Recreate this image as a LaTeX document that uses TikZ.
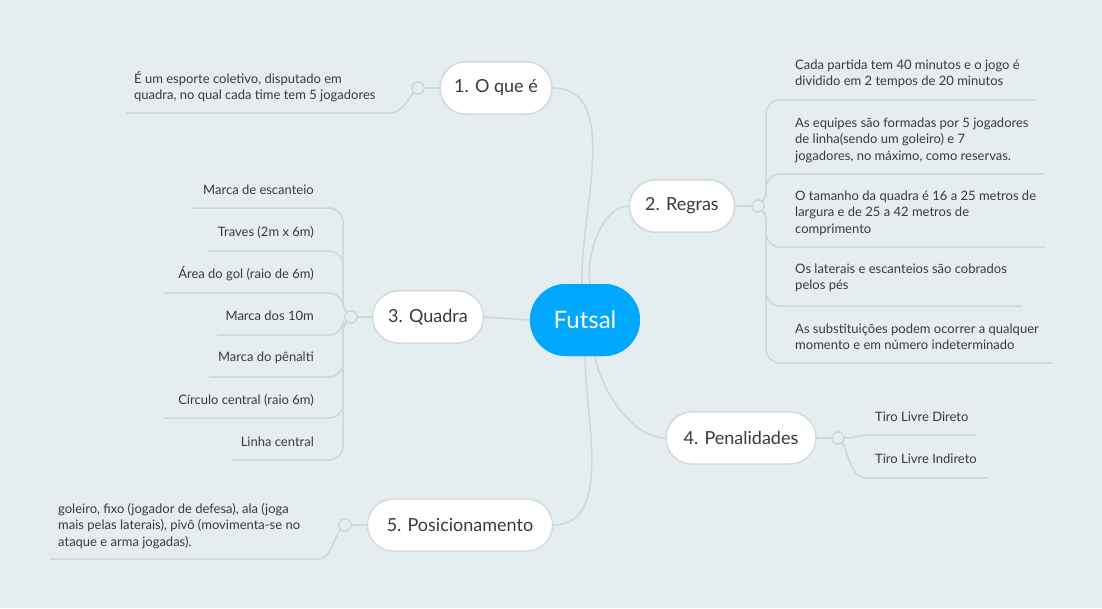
\documentclass[tikz,border=0pt]{standalone}
\usepackage{fontspec}
\setmainfont{Lato}
\usetikzlibrary{shapes.misc}
\definecolor{bg}{HTML}{E5EDF0}
\definecolor{linec}{HTML}{CFD6D9}
\definecolor{brd}{HTML}{D3DADD}
\definecolor{txt}{HTML}{3A3A3A}
\definecolor{blu}{HTML}{00A9FF}
\begin{document}
\begin{tikzpicture}[x=1pt,y=-1pt,
  central/.style={rounded rectangle, fill=blu, text=white, minimum width=110pt, minimum height=72pt, font=\fontsize{24}{28}\selectfont, inner sep=0pt},
  topic/.style={rounded rectangle, draw=brd, line width=1.3pt, fill=white, text=txt, minimum height=52pt, font=\fontsize{18}{22}\selectfont, inner sep=0pt},
  leaf/.style={text=txt, font=\fontsize{13}{16.5}\selectfont, inner sep=0pt},
  dot/.style={circle, draw=linec, line width=1.3pt, fill=bg, minimum size=12pt, inner sep=0pt},
  conn/.style={draw=linec, line width=1.5pt},
  lconn/.style={draw=linec, line width=1.5pt, rounded corners=14pt}]
\fill[bg] (0,0) rectangle (1102,608);
\useasboundingbox (0,0) rectangle (1102,608);

% central and topics (placed first for anchors)
\node[central] (F) at (585,320) {};
\node[topic, minimum width=112pt] (T1) at (496,88) {};
\node[topic, minimum width=105pt] (T2) at (682,206) {};
\node[topic, minimum width=111pt] (T3) at (428,317) {};
\node[topic, minimum width=150pt] (T4) at (741,438) {};
\node[topic, minimum width=185pt] (T5) at (460,525) {};

% connectors central -> topics
\path (F.north) ++(-3,0) coordinate (f1) (F.north) ++(5,0) coordinate (f2)
  (F.south) ++(10,0) coordinate (f4) (F.south) ++(0,0) coordinate (f5);
\draw[conn] (f1) to[out=92,in=0,looseness=0.9] (T1.east);
\draw[conn] (f2) to[out=100,in=180,looseness=0.8] (T2.west);
\draw[conn] (F.west) -- (T3.east);
\draw[conn] (f4) to[out=-80,in=180,looseness=0.8] (T4.west);
\draw[conn] (f5) to[out=-90,in=0,looseness=0.9] (T5.east);
\node[central] at (F) {Futsal};
\node[topic, minimum width=112pt] at (T1) {1. O que é};
\node[topic, minimum width=105pt] at (T2) {2. Regras};
\node[topic, minimum width=111pt] at (T3) {3. Quadra};
\node[topic, minimum width=150pt] at (T4) {4. Penalidades};
\node[topic, minimum width=185pt] at (T5) {5. Posicionamento};

% dots
\node[dot] (D1) at (418,88) {};
\node[dot] (D2) at (758,206) {};
\node[dot] (D3) at (351,317) {};
\node[dot] (D4) at (838,438) {};
\node[dot] (D5) at (345,525) {};

\draw[conn] (T1.west) -- (D1.east);
\draw[conn] (T2.east) -- (D2.west);
\draw[conn] (T3.west) -- (D3.east);
\draw[conn] (T4.east) -- (D4.west);
\draw[conn] (T5.west) -- (D5.east);

% leaf underline end coordinates
\coordinate (e1) at (126,113);
\coordinate (r1) at (1035,100);
\coordinate (r2) at (1043,174);
\coordinate (r3) at (1045,247);
\coordinate (r4) at (1022,306);
\coordinate (r5) at (1052,363);
\coordinate (q1) at (192,208);
\coordinate (q2) at (207,251);
\coordinate (q3) at (165,293);
\coordinate (q4) at (217,335);
\coordinate (q5) at (209,377);
\coordinate (q6) at (165,418);
\coordinate (q7) at (232,460);
\coordinate (p1) at (976,435);
\coordinate (p2) at (987,478);
\coordinate (s1) at (50,559);

% leaf connectors
\draw[conn] (D1.south west) to[out=-125,in=0,looseness=0.9] (390,113) -- (e1);
\foreach \r in {r1,r2,r3,r4,r5}{
  \draw[lconn] (746,206) -- (766,206) -- (766,0 |- \r) -- (\r);
}
\foreach \q in {q1,q2,q3,q4,q5,q6,q7}{
  \draw[lconn] (363,317) -- (343,317) -- (343,0 |- \q) -- (\q);
}
\draw[conn] (D4.east) to[out=0,in=180,looseness=0.6] (870,435) -- (p1);
\draw[conn] (D4.south east) to[out=-65,in=180,looseness=0.9] (866,478) -- (p2);
\draw[conn] (D5.south west) to[out=-125,in=0,looseness=0.9] (318,559) -- (s1);

% redraw topic 2/3 and dots on top
\node[topic, minimum width=105pt] at (T2) {2. Regras};
\node[topic, minimum width=111pt] at (T3) {3. Quadra};
\draw[conn] (T2.east) -- (D2.west);
\draw[conn] (T3.west) -- (D3.east);
\node[dot] at (D1) {};
\node[dot] at (D2) {};
\node[dot] at (D3) {};
\node[dot] at (D4) {};
\node[dot] at (D5) {};

% leaves
\node[leaf, anchor=west, align=left] (L1) at (134,86.5) {É um esporte coletivo, disputado em\\quadra, no qual cada time tem 5 jogadores};

\node[leaf, anchor=west, align=left] (R1) at (795,74) {Cada partida tem 40 minutos e o jogo é\\dividido em 2 tempos de 20 minutos};
\node[leaf, anchor=west, align=left] (R2) at (795,140) {As equipes são formadas por 5 jogadores\\de linha(sendo um goleiro) e 7\\jogadores, no máximo, como reservas.};
\node[leaf, anchor=west, align=left] (R3) at (795,213) {O tamanho da quadra é 16 a 25 metros de\\largura e de 25 a 42 metros de\\comprimento};
\node[leaf, anchor=west, align=left] (R4) at (795,278) {Os laterais e escanteios são cobrados\\pelos pés};
\node[leaf, anchor=west, align=left] (R5) at (795,337) {As substituições podem ocorrer a qualquer\\momento e em número indeterminado};

\node[leaf, anchor=east] (Q1) at (314,190) {Marca de escanteio};
\node[leaf, anchor=east] (Q2) at (314,232) {Traves (2m x 6m)};
\node[leaf, anchor=east] (Q3) at (314,274) {Área do gol (raio de 6m)};
\node[leaf, anchor=east] (Q4) at (314,316) {Marca dos 10m};
\node[leaf, anchor=east] (Q5) at (314,358) {Marca do pênalti};
\node[leaf, anchor=east] (Q6) at (314,400) {Círculo central (raio 6m)};
\node[leaf, anchor=east] (Q7) at (314,442) {Linha central};

\node[leaf, anchor=west] (P1) at (875,417) {Tiro Livre Direto};
\node[leaf, anchor=west] (P2) at (875,459) {Tiro Livre Indireto};

\node[leaf, anchor=west, align=left] (S1) at (58,526) {goleiro, fixo (jogador de defesa), ala (joga\\mais pelas laterais), pivô (movimenta-se no\\ataque e arma jogadas).};
\end{tikzpicture}
\end{document}
